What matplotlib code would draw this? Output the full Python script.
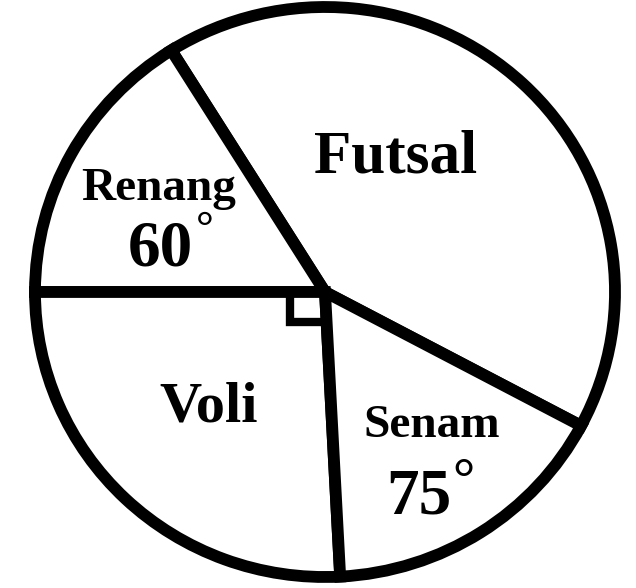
import matplotlib
matplotlib.use('Agg')
import matplotlib.pyplot as plt

# sudut yang tergambar (derajat), urut berlawanan jarum jam mulai dari garis kanan
olahraga = ['Futsal', 'Renang', 'Voli', 'Senam']
sudut_gambar = [150, 58, 93, 59]
sudut_label = ['', '60', '', '75']   # angka yang ditulis pada juring
sudut_awal = -28

fig = plt.figure(figsize=(6.36, 5.88), dpi=100)
ax = fig.add_axes([35/636, 11/588, 580/636, 570/588])

ax.pie(sudut_gambar, startangle=sudut_awal, counterclock=True,
       colors=['white']*4,
       wedgeprops={'edgecolor': 'black', 'linewidth': 8.5, 'clip_on': False,
                   'joinstyle': 'miter'})
ax.set_aspect('auto')
ax.set_xlim(-1, 1)
ax.set_ylim(-1, 1)
ax.axis('off')

# tanda siku pada juring Voli
ax.plot([-0.12, -0.12, 0.0], [0.0, -0.105, -0.105], color='black', lw=6,
        solid_joinstyle='miter')

huruf = dict(family='Liberation Serif', fontweight='bold', color='black',
             ha='center', va='baseline', transform=ax.transAxes)

ax.text(0.622, 0.709, olahraga[0], fontsize=44, **huruf)
ax.text(0.213, 0.661, olahraga[1], fontsize=34, **huruf)
ax.text(0.299, 0.272, olahraga[2], fontsize=42, **huruf)
ax.text(0.684, 0.246, olahraga[3], fontsize=34, **huruf)

ax.text(0.2155, 0.547, sudut_label[1], fontsize=47, **huruf)
ax.text(0.292, 0.590, '°', fontsize=32, **huruf)
ax.text(0.661, 0.112, sudut_label[3], fontsize=47, **huruf)
ax.text(0.738, 0.140, '°', fontsize=40, **huruf)

fig.savefig('out.png', dpi=100, facecolor='white')
